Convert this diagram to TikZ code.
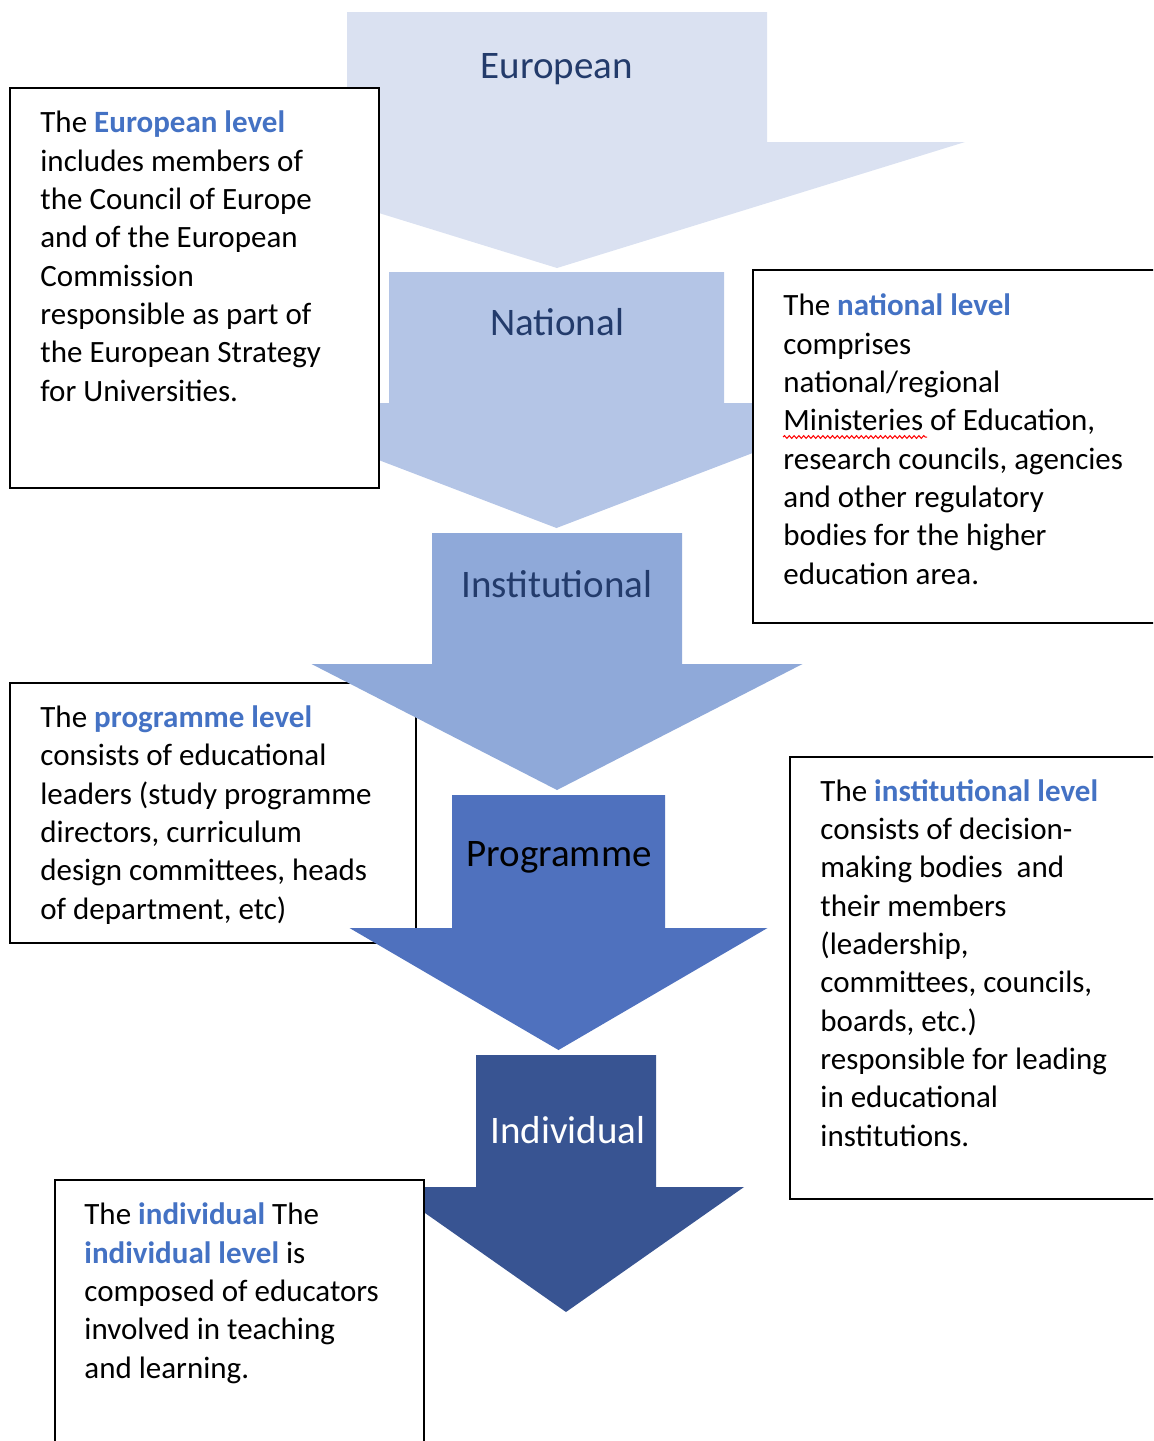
\documentclass[tikz,border=0pt]{standalone}
\usepackage{fontspec}
\setmainfont{Carlito}
\usetikzlibrary{decorations.pathmorphing}
\definecolor{euro}{HTML}{DAE1F1}
\definecolor{nat}{HTML}{B4C5E6}
\definecolor{inst}{HTML}{8FA9D9}
\definecolor{prog}{HTML}{4F71BE}
\definecolor{indiv}{HTML}{385492}
\definecolor{labelnavy}{HTML}{233B6B}
\definecolor{hl}{HTML}{4472C4}
\newcommand{\hi}[1]{\textbf{\color{hl}#1}}
% color, cx, top, shaft half width, shaft bottom, head half width, tip
\newcommand{\levelarrow}[7]{%
  \fill[#1] ({#2-#4},#3) -- ({#2+#4},#3) -- ({#2+#4},#5) -- ({#2+#6},#5)
    -- (#2,#7) -- ({#2-#6},#5) -- ({#2-#4},#5) -- cycle;}
\tikzset{
  infobox/.style={draw=black, line width=1.25pt, fill=white},
  body/.style={font=\fontsize{15.5}{19.15}\selectfont, align=left, inner sep=0pt, anchor=base west, text=black},
  lvl/.style={font=\fontsize{19.5}{23}\selectfont, inner sep=0pt, anchor=base}
}
\begin{document}
\begin{tikzpicture}[x=0.5pt,y=-0.5pt]
\useasboundingbox (0,0) rectangle (1153,1441);
\clip (0,0) rectangle (1153,1441);
% programme box lies beneath the arrows
\draw[infobox] (10,683) rectangle (416,943);
% level arrows
\levelarrow{euro}{557}{12}{210}{142}{408}{268}
\levelarrow{nat}{556.5}{272}{167.5}{403}{327}{528}
\levelarrow{inst}{557}{533}{125}{664}{245.5}{790}
\levelarrow{prog}{558.5}{795}{106.5}{928}{209}{1050}
\levelarrow{indiv}{566}{1055}{90}{1187}{178}{1312}
% level labels
\node[lvl, text=labelnavy] (leuro) at (557,78) {European};
\node[lvl, text=labelnavy] (lnat) at (557,335) {National};
\node[lvl, text=labelnavy] (linst) at (557,597) {Institutional};
\node[lvl, text=black] (lprog) at (559,866) {Programme};
\node[lvl, text=white] (lindiv) at (568,1143) {Individual};
% boxes drawn over the arrows
\draw[infobox] (10,88) rectangle (379,488);
\draw[infobox] (753,270) rectangle (1160,623);
\draw[infobox] (790,757) rectangle (1160,1199);
\draw[infobox] (55,1180) rectangle (424,1460);
% texts (anchored at the baseline of their last line)
\node[body] (teuro) at (40,401) {The \hi{European level}\\includes members of\\the Council of Europe\\and of the European\\Commission\\responsible as part of\\the European Strategy\\for Universities.};
\node[body] (tnat) at (783,584) {The \hi{national level}\\comprises\\national/regional\\Ministeries of Education,\\research councils, agencies\\and other regulatory\\bodies for the higher\\education area.};
\draw[red, line width=0.5pt, decorate, decoration={snake, amplitude=0.7pt, segment length=2.4pt}] (783,437) -- (927,437);
\node[body] (tprog) at (40,919) {The \hi{programme level}\\consists of educational\\leaders (study programme\\directors, curriculum\\design committees, heads\\of department, etc)};
\node[body] (tinst) at (820,1146) {The \hi{institutional level}\\consists of decision-\\making bodies\ \ and\\their members\\(leadership,\\committees, councils,\\boards, etc.)\\responsible for leading\\in educational\\institutions.};
\node[body] (tindiv) at (84,1378) {The \hi{individual} The\\\hi{individual level} is\\composed of educators\\involved in teaching\\and learning.};
\end{tikzpicture}
\end{document}
